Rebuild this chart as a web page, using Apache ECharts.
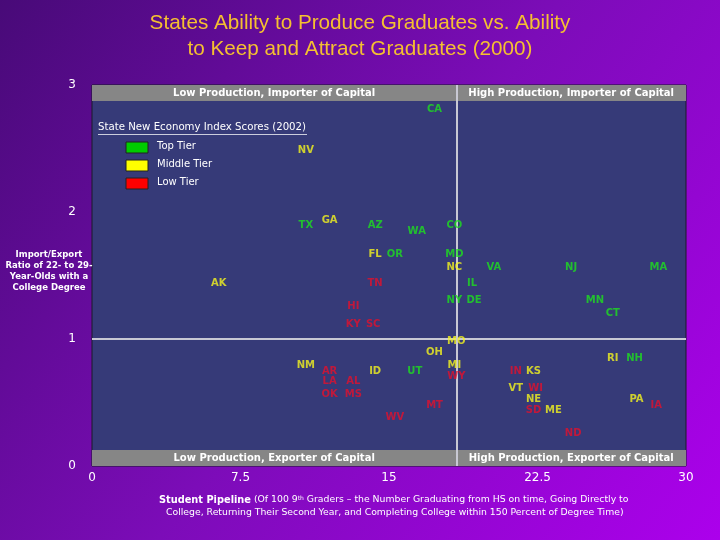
<!DOCTYPE html>
<html><head><meta charset="utf-8">
<script src="https://cdn.jsdelivr.net/npm/echarts@6/dist/echarts.min.js"></script>
<style>html,body{margin:0;padding:0;}#c{width:720px;height:540px;}</style>
</head><body><div id="c"></div>
<script>
var states = ['CA','NV','TX','GA','AZ','WA','CO','FL','OR','MD','NC','VA','NJ','MA','AK','TN','IL','NY','DE','MN','CT','HI','KY','SC',
  'MO','OH','NM','AR','ID','UT','MI','WY','LA','AL','OK','MS','MT','WV','IN','KS','VT','WI','NE','SD','ME','ND','RI','NH','PA','IA'];
var pipeline = [17.3,10.8,10.8,12.0,14.3,16.4,18.3,14.3,15.3,18.3,18.3,20.3,24.2,28.6,6.4,14.3,19.2,18.3,19.3,25.4,26.3,13.2,13.2,14.2,
  18.4,17.3,10.8,12.0,14.3,16.3,18.3,18.4,12.0,13.2,12.0,13.2,17.3,15.3,21.4,22.3,21.4,22.4,22.3,22.3,23.3,24.3,26.3,27.4,27.5,28.5];
var ratio = [2.82,2.50,1.91,1.95,1.91,1.86,1.91,1.68,1.68,1.68,1.58,1.58,1.58,1.58,1.45,1.45,1.45,1.32,1.32,1.32,1.22,1.27,1.13,1.13,
  1.00,0.91,0.81,0.76,0.76,0.76,0.81,0.72,0.68,0.68,0.58,0.58,0.49,0.40,0.76,0.76,0.63,0.63,0.54,0.45,0.45,0.27,0.86,0.86,0.54,0.49];
var tiers = ['Top','Middle','Top','Middle','Top','Top','Top','Middle','Top','Top','Middle','Top','Top','Top','Middle','Low','Top','Top','Top','Top','Top','Low','Low','Low',
  'Middle','Middle','Middle','Low','Middle','Top','Middle','Low','Low','Low','Low','Low','Low','Low','Low','Middle','Middle','Low','Middle','Low','Middle','Low','Middle','Top','Middle','Low'];
var tierNames = ['Top','Middle','Low'];
var tierLabels = ['Top Tier','Middle Tier','Low Tier'];
var tierColors = ['#1ee01e','#f5f51e','#e4102c'];
var swatchColors = ['#00cc00','#ffff00','#ff0000'];
var xTicks = [0,7.5,15,22.5,30];
var yTicks = [0,1,2,3];
var dividerX = 18.4, dividerY = 1;
var bandTopLabels = ['Low Production, Importer of Capital','High Production, Importer of Capital'];
var bandBottomLabels = ['Low Production, Exporter of Capital','High Production, Exporter of Capital'];

var chart = echarts.init(document.getElementById('c'));
var series = tierNames.map(function(t, i){
  var d = [];
  for (var k = 0; k < states.length; k++) if (tiers[k] === t) d.push({name: states[k], value: [pipeline[k], ratio[k]]});
  return {type:'scatter', name:t, data:d, symbolSize:1, itemStyle:{color:'rgba(0,0,0,0)'}, z:5,
    label:{show:true, position:'inside', offset:[0,2], formatter:'{b}', color:tierColors[i], fontSize:10, fontWeight:'bold', fontFamily:'DejaVu Sans'}};
});
var bandLabel = {show:true, position:'inside', color:'#ffffff', fontSize:10, fontWeight:'bold', fontFamily:'DejaVu Sans'};
series.push({type:'scatter', data:[], z:2,
  markArea:{silent:true, itemStyle:{color:'#868686'}, label:bandLabel, data:[
    [{name:bandTopLabels[0], coord:[0,2.874]},{coord:[dividerX,3]}],
    [{name:bandTopLabels[1], coord:[dividerX,2.874]},{coord:[30,3]}],
    [{name:bandBottomLabels[0], coord:[0,0]},{coord:[dividerX,0.126]}],
    [{name:bandBottomLabels[1], coord:[dividerX,0]},{coord:[30,0.126]}]
  ]},
  markLine:{silent:true, symbol:'none', label:{show:false}, lineStyle:{color:'#c8c8d4', width:2, type:'solid'},
    data:[{xAxis:dividerX},{yAxis:dividerY}]}
});

var legendGraphics = [{type:'text', x:98, y:122, style:{text:'State New Economy Index Scores (2002)', fill:'#ffffff', fontSize:10.2, fontFamily:'DejaVu Sans'}},
  {type:'rect', shape:{x:98, y:134, width:209, height:0.8}, style:{fill:'#ffffff'}}];
tierLabels.forEach(function(l, i){
  legendGraphics.push({type:'rect', shape:{x:126, y:142 + i*18, width:22, height:11}, style:{fill:swatchColors[i], stroke:'#222', lineWidth:1}});
  legendGraphics.push({type:'text', x:157, y:141 + i*18, style:{text:l, fill:'#ffffff', fontSize:10, fontFamily:'DejaVu Sans'}});
});

chart.setOption({
  backgroundColor: new echarts.graphic.LinearGradient(0,0,1,1,[{offset:0,color:'#480a78'},{offset:0.5,color:'#7c0cb8'},{offset:1,color:'#ac00ec'}]),
  title:{text:'States Ability to Produce Graduates vs. Ability\nto Keep and Attract Graduates (2000)', left:'center', top:5,
    textStyle:{color:'#f5c030', fontSize:20.7, fontWeight:'normal', fontFamily:'Liberation Sans', lineHeight:26}},
  grid:{left:92, right:34, top:85, bottom:74, show:true, backgroundColor:'#363a78', borderColor:'#1a1a2a', borderWidth:1},
  xAxis:{type:'value', min:0, max:30, interval:7.5, splitLine:{show:false}, axisLine:{show:false}, axisTick:{show:false},
    axisLabel:{color:'#ffffff', fontSize:12, fontFamily:'DejaVu Sans', margin:6}},
  yAxis:{type:'value', min:0, max:3, interval:1, splitLine:{show:false}, axisLine:{show:false}, axisTick:{show:false},
    axisLabel:{color:'#ffffff', fontSize:12, fontFamily:'DejaVu Sans', margin:16}},
  graphic: legendGraphics.concat([
    {type:'text', x:49, y:249, style:{text:'Import/Export\nRatio of 22- to 29-\nYear-Olds with a\nCollege Degree', fill:'#ffffff', fontSize:8.5, fontWeight:'bold', fontFamily:'DejaVu Sans', align:'center', lineHeight:11}},
    {type:'text', x:159, y:495, style:{text:'{b|Student Pipeline} (Of 100 9{s|th} Graders – the Number Graduating from HS on time, Going Directly to',
      rich:{b:{fontWeight:'bold', fontSize:9.8, fill:'#ffffff', fontFamily:'DejaVu Sans'}, s:{fontSize:6, fill:'#ffffff', verticalAlign:'top', fontFamily:'DejaVu Sans'}},
      fill:'#ffffff', fontSize:9.3, fontFamily:'DejaVu Sans'}},
    {type:'text', x:166, y:508, style:{text:'College, Returning Their Second Year, and Completing College within 150 Percent of Degree Time)', fill:'#ffffff', fontSize:9.3, fontFamily:'DejaVu Sans'}}
  ]),
  series: series
});
</script></body></html>
